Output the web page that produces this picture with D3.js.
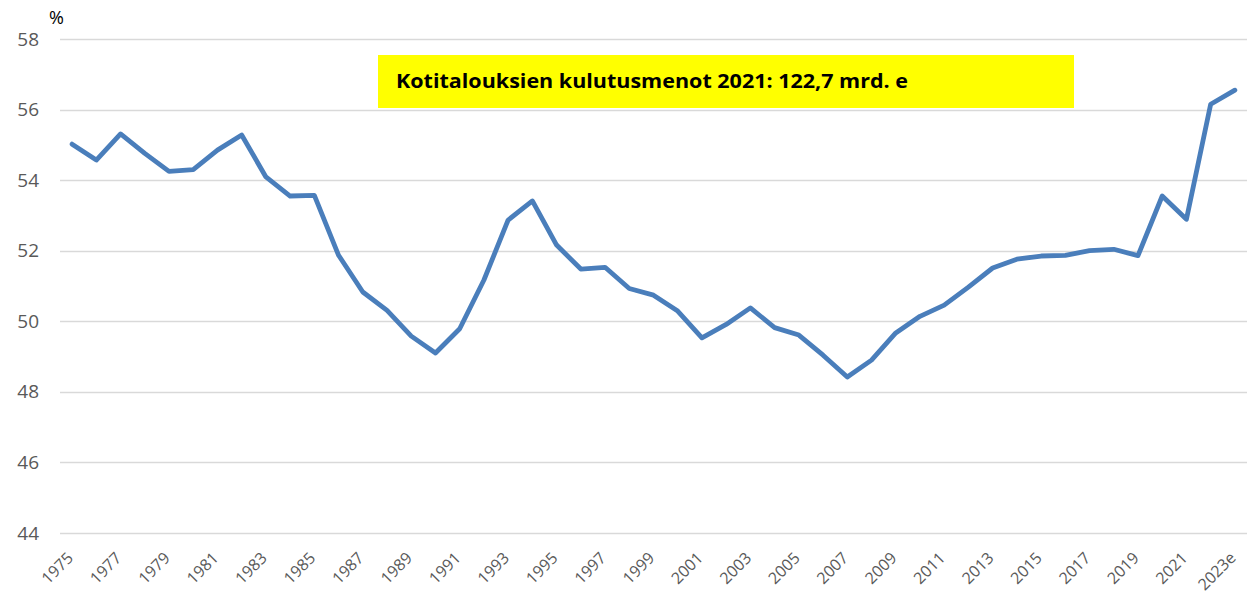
<!DOCTYPE html>
<html>
<head>
<meta charset="utf-8">
<script src="https://cdn.jsdelivr.net/npm/d3@7"></script>
<style>
  body { margin: 0; background: #fff; }
  svg { display: block; }
</style>
</head>
<body>
<script>
// dimensions and margins of the chart
var width = 1253;
var height = 598;
var margin = {top: 39, right: 6, bottom: 65, left: 60};

// chart data
var years = ["1975","1976","1977","1978","1979","1980","1981","1982","1983","1984",
             "1985","1986","1987","1988","1989","1990","1991","1992","1993","1994",
             "1995","1996","1997","1998","1999","2000","2001","2002","2003","2004",
             "2005","2006","2007","2008","2009","2010","2011","2012","2013","2014",
             "2015","2016","2017","2018","2019","2020","2021","2022","2023e"];
var shares = [55.02, 54.57, 55.31, 54.76, 54.25, 54.30, 54.85, 55.28, 54.09, 53.55,
              53.57, 51.87, 50.83, 50.31, 49.58, 49.10, 49.79, 51.17, 52.87, 53.41,
              52.16, 51.48, 51.53, 50.93, 50.74, 50.29, 49.53, 49.91, 50.38, 49.82,
              49.61, 49.04, 48.42, 48.90, 49.67, 50.14, 50.46, 50.97, 51.51, 51.76,
              51.85, 51.87, 52.00, 52.04, 51.86, 53.55, 52.89, 56.15, 56.55];
var yTicks = [44, 46, 48, 50, 52, 54, 56, 58];
var unitLabel = "%";
var note = "Kotitalouksien kulutusmenot 2021: 122,7 mrd. e";

var data = years.map(function(y, i) { return {year: y, value: shares[i]}; });

const svg = d3.select("body")
              .append("svg")
              .attr("width", width)
              .attr("height", height);

var x = d3.scaleBand()
          .domain(years)
          .range([margin.left, width - margin.right]);

var y = d3.scaleLinear()
          .domain([44, 58])
          .range([height - margin.bottom, margin.top]);

// horizontal gridlines
svg.append("g")
   .selectAll("line")
   .data(yTicks)
   .enter()
   .append("line")
   .attr("x1", margin.left)
   .attr("x2", width - margin.right)
   .attr("y1", function(d) { return Math.round(y(d)) + 0.5; })
   .attr("y2", function(d) { return Math.round(y(d)) + 0.5; })
   .attr("stroke", "#d9d9d9")
   .attr("stroke-width", 1.5);

// y axis labels
var yAxis = svg.append("g")
   .attr("transform", "translate(" + (margin.left - 21) + ",0)")
   .call(d3.axisLeft(y).tickValues(yTicks).tickSize(0).tickPadding(0));
yAxis.select(".domain").remove();
yAxis.selectAll("text")
     .attr("fill", "#595959")
     .style("font-family", "'Open Sans', Calibri, sans-serif")
     .style("font-size", "19px");

// unit label
svg.append("text")
   .attr("x", 49)
   .attr("y", 24)
   .style("font-family", "'Open Sans', Calibri, sans-serif")
   .style("font-size", "18px")
   .attr("fill", "#000")
   .text(unitLabel);

// x axis labels, every other year
var xAxis = svg.append("g")
   .attr("transform", "translate(0," + (height - margin.bottom) + ")")
   .call(d3.axisBottom(x)
           .tickValues(years.filter(function(d, i) { return i % 2 == 0; }))
           .tickSize(0));
xAxis.select(".domain").remove();
xAxis.selectAll("text")
     .attr("fill", "#595959")
     .style("font-family", "'Open Sans', Calibri, sans-serif")
     .style("font-size", "16px")
     .attr("text-anchor", "end")
     .attr("dy", "0")
     .attr("y", 0)
     .attr("transform", "translate(2,26) rotate(-45)");

// highlighted note box
svg.append("rect")
   .attr("x", 378)
   .attr("y", 55)
   .attr("width", 696)
   .attr("height", 53)
   .attr("fill", "#ffff00");

svg.append("text")
   .attr("x", 396)
   .attr("y", 88)
   .attr("textLength", 512)
   .attr("lengthAdjust", "spacingAndGlyphs")
   .style("font-family", "'Open Sans', Calibri, sans-serif")
   .style("font-size", "20px")
   .style("font-weight", "bold")
   .attr("fill", "#000")
   .text(note);

// the line
var line = d3.line()
             .x(function(d) { return x(d.year) + x.bandwidth() / 2; })
             .y(function(d) { return y(d.value); });

svg.append("path")
   .datum(data)
   .attr("fill", "none")
   .attr("stroke", "#4a7ebb")
   .attr("stroke-width", 4.8)
   .attr("stroke-linejoin", "round")
   .attr("stroke-linecap", "round")
   .attr("d", line);
</script>
</body>
</html>
